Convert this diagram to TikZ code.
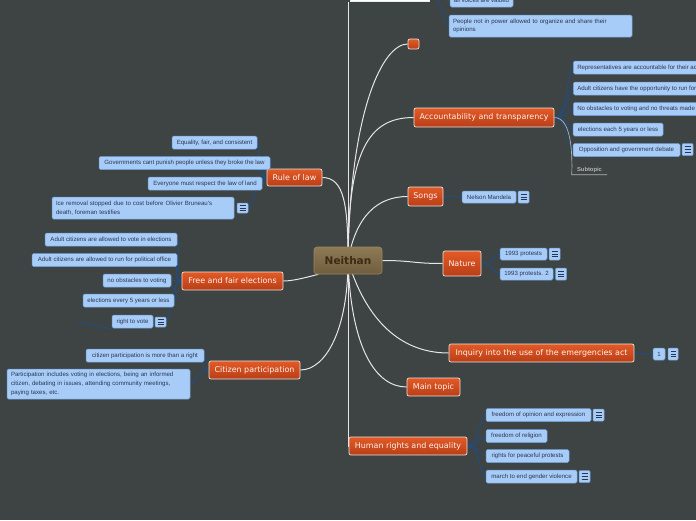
\documentclass[tikz,border=0pt]{standalone}
\usepackage{fontspec}
\setmainfont{DejaVu Sans}
\newfontfamily\leaffont{Liberation Sans}
\pgfdeclarelayer{bgfill}
\pgfdeclarelayer{lines}
\pgfsetlayers{bgfill,lines,main}
\definecolor{bgcol}{HTML}{3E4343}
\definecolor{leaffill}{HTML}{A8CCF8}
\definecolor{leafborder}{HTML}{6F9FD8}
\definecolor{leaftext}{HTML}{2A3650}
\definecolor{topictop}{HTML}{E35A27}
\definecolor{topicbot}{HTML}{B83E17}
\definecolor{topicborder}{HTML}{EDE3DC}
\definecolor{topictext}{HTML}{FFF2EA}
\definecolor{centop}{HTML}{8E7A55}
\definecolor{cenbot}{HTML}{6F5D3E}
\definecolor{cenborder}{HTML}{9A8660}
\definecolor{centext}{HTML}{3D2B14}
\definecolor{mainlinecol}{HTML}{E6E6E6}
\definecolor{leaflinecol}{HTML}{1E4E8A}
\definecolor{notelinecol}{HTML}{2A3650}
\definecolor{subgrey}{HTML}{B4B4B4}
\tikzset{
 leaf/.style={rectangle, rounded corners=1.5pt, draw=leafborder, fill=leaffill, line width=0.5pt,
   minimum height=13pt, inner xsep=3pt, inner ysep=0pt, text=leaftext,
   font=\leaffont\fontsize{6.1}{8.6}\selectfont},
 topic/.style={rectangle, rounded corners=2pt, draw=topicborder, line width=0.7pt,
   top color=topictop, bottom color=topicbot, text=topictext, inner sep=0pt,
   font=\fontsize{7.95}{9.5}\selectfont},
 notebox/.style={rectangle, rounded corners=1pt, draw=leafborder, fill=leaffill, line width=0.5pt,
   minimum width=11pt, minimum height=12pt, inner sep=0pt,
   path picture={
     \foreach \yy in {-2.6,0,2.6}
       \draw[notelinecol, line width=0.9pt, sharp corners]
         ([xshift=2.5pt,yshift=\yy pt]path picture bounding box.west) --
         ([xshift=-2.5pt,yshift=\yy pt]path picture bounding box.east);}},
 mainline/.style={draw=mainlinecol, line width=1pt},
 leafline/.style={draw=leaflinecol, line width=0.8pt},
}
\begin{document}
\begin{tikzpicture}[x=1pt,y=-1pt]
\begin{pgfonlayer}{bgfill}
\fill[bgcol] (0,0) rectangle (696,520);
\end{pgfonlayer}
\useasboundingbox (0,0) rectangle (696,520);

% central
\node[draw=cenborder, line width=0.6pt, rounded corners=3pt, top color=centop, bottom color=cenbot,
  minimum width=68pt, minimum height=27pt, inner sep=0pt, text=centext,
  font=\bfseries\fontsize{10.5}{12}\selectfont] (cen) at (348,260.5) {Neithan};

% main topics
\node[fill=white, draw=white!85!gray, minimum width=79pt, minimum height=14pt, inner sep=0pt] (topw) at (389.5,-5.5) {};
\node[topic, minimum width=11pt, minimum height=10pt] (small) at (413.5,44) {};
\node[topic, minimum width=140pt, minimum height=19pt] (acc) at (484,117.5) {Accountability and transparency};
\node[topic, minimum width=35pt, minimum height=19pt] (songs) at (425.5,196.5) {Songs};
\node[topic, minimum width=38pt, minimum height=25pt] (nature) at (462,263.5) {Nature};
\node[topic, minimum width=185pt, minimum height=18pt] (inq) at (541.5,353) {Inquiry into the use of the emergencies act};
\node[topic, minimum width=53pt, minimum height=18pt] (mt) at (433.5,387) {Main topic};
\node[topic, minimum width=118pt, minimum height=18pt] (hr) at (408,446) {Human rights and equality};
\node[topic, minimum width=55pt, minimum height=17pt] (rule) at (294.5,177.5) {Rule of law};
\node[topic, minimum width=101pt, minimum height=18pt] (free) at (232.5,281) {Free and fair elections};
\node[topic, minimum width=91pt, minimum height=18pt] (cit) at (254.5,370) {Citizen participation};

% top leaves
\node[leaf, minimum width=63pt] (t1) at (481.5,0.5) {all voices are valued};
\node[leaf, text width=175pt, align=left, inner xsep=4pt, minimum height=22pt] (t2) at (540.5,26) {People not in power allowed to organize and share their\\opinions};

% rule of law leaves
\node[leaf, minimum width=85pt] (r1) at (214.5,142.5) {Equality, fair, and consistent};
\node[leaf, minimum width=171pt] (r2) at (184.5,163) {Governments cant punish people unless they broke the law};
\node[leaf, minimum width=114pt] (r3) at (205,183.5) {Everyone must respect the law of land};
\node[leaf, text width=174pt, align=left, inner xsep=4pt, minimum height=22pt] (r4) at (143,208) {Ice removal stopped due to cost before Olivier Bruneau's\\death, foreman testifies};
\node[notebox, minimum height=10pt] (nr4) at (242.5,208) {};

% free and fair elections leaves
\node[leaf, minimum width=132pt] (f1) at (111,239.5) {Adult citizens are allowed to vote in elections};
\node[leaf, minimum width=145pt] (f2) at (104.5,260) {Adult citizens are allowed to run for political office};
\node[leaf, minimum width=68pt] (f3) at (137,280.5) {no obstacles to voting};
\node[leaf, minimum width=91pt] (f4) at (128.5,300.5) {elections every 5 years or less};
\node[leaf, minimum width=41pt] (f5) at (132.5,321.5) {right to vote};
\node[notebox, minimum height=10pt] (nf5) at (160.5,322) {};
\coordinate (fl) at (78,322.5);

% citizen participation leaves
\node[leaf, minimum width=118pt] (c1) at (145,355.5) {citizen participation is more than a right};
\node[leaf, text width=175pt, align=left, inner xsep=4pt, minimum height=30pt] (c2) at (98.5,384) {Participation includes voting in elections, being an informed\\citizen, debating in issues, attending community meetings,\\paying taxes, etc.};

% accountability leaves
\node[leaf, anchor=west, inner xsep=4pt] (a1) at (573,67.5) {Representatives are accountable for their actions};
\node[leaf, anchor=west, inner xsep=4pt] (a2) at (573,88.5) {Adult citizens have the opportunity to run for office};
\node[leaf, anchor=west, inner xsep=4pt] (a3) at (573,109) {No obstacles to voting and no threats made to voters};
\node[leaf, minimum width=90pt] (a4) at (618,129.5) {elections each 5 years or less};
\node[leaf, minimum width=107pt] (a5) at (626.5,150) {Opposition and government debate};
\node[notebox] (na5) at (687.5,149.5) {};
\node[minimum width=35pt, minimum height=9pt, inner sep=0pt, text=subgrey,
  font=\leaffont\bfseries\fontsize{5.8}{7}\selectfont] (sub) at (589.5,170) {Subtopic};

% songs
\node[leaf, minimum width=54pt, minimum height=12pt] (s1) at (489,197) {Nelson Mandela};
\node[notebox] (ns1) at (523.5,197) {};

% nature
\node[leaf, minimum width=47pt, minimum height=12pt] (n1) at (523.5,254) {1993 protests};
\node[notebox] (nn1) at (554.5,254) {};
\node[leaf, minimum width=53pt, minimum height=12pt] (n2) at (526.5,274) {1993 protests. 2};
\node[notebox] (nn2) at (561,274) {};

% inquiry
\node[leaf, minimum width=12pt, minimum height=12pt] (i1) at (659,354) {1};
\node[notebox, minimum width=10pt] (ni1) at (673,354) {};

% human rights
\node[leaf, minimum width=105pt] (h1) at (538.5,415) {freedom of opinion and expression};
\node[notebox] (nh1) at (598.5,415) {};
\node[leaf, minimum width=61pt] (h2) at (516.5,436) {freedom of religion};
\node[leaf, minimum width=83pt] (h3) at (527.5,456) {rights for peaceful protests};
\node[leaf, minimum width=91pt] (h4) at (531.5,476.5) {march to end gender violence};
\node[notebox] (nh4) at (584.5,476.5) {};

\begin{pgfonlayer}{lines}
% main connectors
\draw[mainline] (cen.center) -- (cen.center |- topw.south);
\draw[mainline] (cen.center) .. controls +(2,-150) and +(-25,0) .. (small.west);
\draw[mainline] (cen.center) .. controls +(0,-110) and +(-45,0) .. (acc.west);
\draw[mainline] (cen.center) .. controls +(8,-45) and +(-30,0) .. (songs.west);
\draw[mainline] (cen.center) .. controls +(0,-55) and +(22,0) .. (rule.east);
\draw[mainline] (cen.east) .. controls +(30,0) and +(-30,0) .. (nature.west);
\draw[mainline] (cen.205) .. controls +(-12,3) and +(10,0) .. (free.east);
\draw[mainline] (cen.center) .. controls +(0,70) and +(25,0) .. (cit.east);
\draw[mainline] (cen.center) .. controls +(3,90) and +(-30,0) .. (mt.west);
\draw[mainline] (cen.center) .. controls +(15,50) and +(-55,0) .. (inq.west);
\draw[mainline] (cen.center) -- (cen.center |- hr.west) -- (hr.west);

% top leaves
\draw[leafline] (topw.east) .. controls +(14,0) and +(-6,0) .. (t1.west);
\draw[leafline] (topw.east) .. controls +(14,0) and +(-6,0) .. (t2.west);

% rule of law
\foreach \n in {r1,r2,r3}
  \draw[leafline] (rule.west) .. controls +(-12,0) and +(6,0) .. (\n.east);
\draw[leafline] (rule.west) .. controls +(-12,0) and +(6,0) .. (nr4.east);

% free and fair
\foreach \n in {f1,f2,f3,f4}
  \draw[leafline] (free.west) .. controls +(-12,0) and +(6,0) .. (\n.east);
\draw[leafline] (free.west) .. controls +(-12,0) and +(4,0) .. (nf5.east);
\draw[leafline] (f5.south west) .. controls +(-12,0) and +(12,0) .. (fl);

% citizen
\foreach \n in {c1,c2}
  \draw[leafline] (cit.west) .. controls +(-12,0) and +(6,0) .. (\n.east);

% accountability
\foreach \n in {a1,a2,a3,a4,a5}
  \draw[leafline] (acc.east) .. controls +(14,0) and +(-6,0) .. (\n.west);
\draw[draw=subgrey, line width=0.7pt] (acc.east) .. controls +(20,0) and +(0,-8) .. (sub.south west) -- (sub.south east);

% songs, nature, inquiry
\draw[leafline] (songs.east) .. controls +(12,0) and +(-6,0) .. (s1.west);
\foreach \n in {n1,n2}
  \draw[leafline] (nature.east) .. controls +(12,0) and +(-6,0) .. (\n.west);
\draw[leafline] (inq.east) .. controls +(12,0) and +(-6,0) .. (i1.west);

% human rights
\foreach \n in {h1,h2,h3,h4}
  \draw[leafline] (hr.east) .. controls +(12,0) and +(-6,0) .. (\n.west);
\end{pgfonlayer}
\end{tikzpicture}
\end{document}
